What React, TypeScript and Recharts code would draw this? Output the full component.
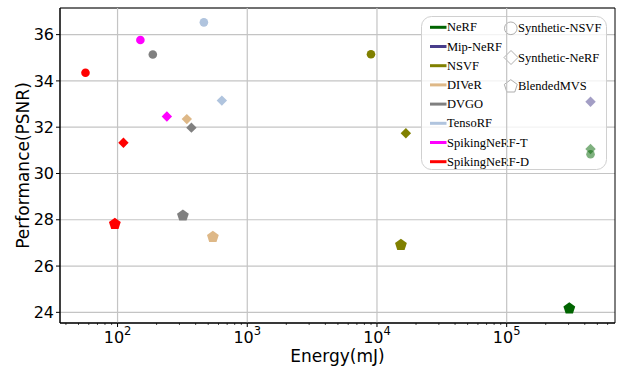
import { ScatterChart, Scatter, XAxis, YAxis, CartesianGrid, ReferenceLine, ReferenceArea } from 'recharts';

// Methods and their legend colours
const methods = ['NeRF', 'Mip-NeRF', 'NSVF', 'DIVeR', 'DVGO', 'TensoRF', 'SpikingNeRF-T', 'SpikingNeRF-D'];
const methodColors = ['#006400', '#483d8b', '#808000', '#deb887', '#808080', '#b0c4de', '#ff00ff', '#ff0000'];
const datasets = ['Synthetic-NSVF', 'Synthetic-NeRF', 'BlendedMVS'];

// Energy (mJ) vs PSNR
const syntheticNsvf = [
  { method: 'SpikingNeRF-D', energy: 56.6, psnr: 34.35 },
  { method: 'SpikingNeRF-T', energy: 150, psnr: 35.77 },
  { method: 'DVGO', energy: 187, psnr: 35.14 },
  { method: 'TensoRF', energy: 463, psnr: 36.53 },
  { method: 'NSVF', energy: 8990, psnr: 35.15 },
  { method: 'NeRF', energy: 443000, psnr: 30.83 },
];

const syntheticNerf = [
  { method: 'SpikingNeRF-D', energy: 111, psnr: 31.33 },
  { method: 'SpikingNeRF-T', energy: 240, psnr: 32.46 },
  { method: 'DIVeR', energy: 342, psnr: 32.35 },
  { method: 'DVGO', energy: 371, psnr: 31.98 },
  { method: 'TensoRF', energy: 637, psnr: 33.15 },
  { method: 'NSVF', energy: 16700, psnr: 31.74 },
  { method: 'Mip-NeRF', energy: 443000, psnr: 33.1 },
  { method: 'NeRF', energy: 443000, psnr: 31.06 },
];

const blendedMvs = [
  { method: 'SpikingNeRF-D', energy: 95.3, psnr: 27.82 },
  { method: 'DVGO', energy: 319, psnr: 28.18 },
  { method: 'DIVeR', energy: 543, psnr: 27.26 },
  { method: 'NSVF', energy: 15300, psnr: 26.91 },
  { method: 'NeRF', energy: 304000, psnr: 24.17 },
];

// points drawn half transparent in the original
const translucentPoints = ['Synthetic-NSVF/NeRF', 'Synthetic-NeRF/Mip-NeRF', 'Synthetic-NeRF/NeRF'];

const majorXTicks = [100, 1000, 10000, 100000];
const minorXTicks = [
  40, 50, 60, 70, 80, 90,
  200, 300, 400, 500, 600, 700, 800, 900,
  2000, 3000, 4000, 5000, 6000, 7000, 8000, 9000,
  20000, 30000, 40000, 50000, 60000, 70000, 80000, 90000,
  200000, 300000, 400000, 500000, 600000,
];
const yTicks = [24, 26, 28, 30, 32, 34, 36];

const X_DOMAIN: [number, number] = [36, 684000];
const Y_DOMAIN: [number, number] = [23.54, 37.15];

const TICK_FONT = '"DejaVu Sans", sans-serif';
const LEGEND_FONT = '"Liberation Serif", "Times New Roman", serif';
const GRID = '#c4c4c4';

const colorOf = (method: string) => methodColors[methods.indexOf(method)];

function pentagonPoints(cx: number, cy: number, r: number) {
  const pts: string[] = [];
  for (let k = 0; k < 5; k++) {
    const a = (-90 + 72 * k) * Math.PI / 180;
    pts.push(`${cx + r * Math.cos(a)},${cy + r * Math.sin(a)}`);
  }
  return pts.join(' ');
}

function makeShape(dataset: string, kind: 'circle' | 'diamond' | 'pentagon') {
  return (props: any) => {
    const { cx, cy, payload } = props;
    const fill = colorOf(payload.method);
    const opacity = translucentPoints.includes(`${dataset}/${payload.method}`) ? 0.5 : 1;
    if (kind === 'circle') return <circle cx={cx} cy={cy} r={4.3} fill={fill} fillOpacity={opacity} />;
    if (kind === 'diamond') {
      const d = 5.2;
      return <polygon points={`${cx},${cy - d} ${cx + d},${cy} ${cx},${cy + d} ${cx - d},${cy}`} fill={fill} fillOpacity={opacity} />;
    }
    return <polygon points={pentagonPoints(cx, cy, 6.2)} fill={fill} fillOpacity={opacity} />;
  };
}

function XTick({ x, y, payload }: any) {
  const v = payload.value;
  const major = majorXTicks.includes(v);
  return (
    <g>
      <line x1={x} x2={x} y1={y} y2={y + (major ? 4 : 2)} stroke="#000" strokeWidth={major ? 1 : 0.7} />
      {major && (
        <text x={x} y={y + 20} textAnchor="middle" fontSize={16} fontFamily={TICK_FONT} fill="#000">
          <tspan>10</tspan>
          <tspan dy={-8} fontSize={11.5}>{Math.round(Math.log10(v))}</tspan>
        </text>
      )}
    </g>
  );
}

// legend drawn inside the chart svg, above the grid and below the markers
function LegendBox() {
  const rowY = (i: number) => 27.3 + i * 19.2;
  return (
    <g className="legend-box">
      <rect x={421.5} y={16.5} width={185} height={153} rx={10} fill="#fff" fillOpacity={0.8} stroke="#d0d0d0" />
      {methods.map((m, i) => (
        <g key={m}>
          <line x1={430} x2={446.5} y1={rowY(i)} y2={rowY(i)} stroke={methodColors[i]} strokeWidth={3} />
          <text x={447} y={rowY(i)} dominantBaseline="central" fontSize={12.5} fontFamily={LEGEND_FONT} fill="#000">{m}</text>
        </g>
      ))}
      <circle cx={510.8} cy={28.3} r={6.3} fill="#fff" stroke="#999" strokeWidth={0.8} />
      <text x={518} y={28.3} dominantBaseline="central" fontSize={12.5} fontFamily={LEGEND_FONT} fill="#000">{datasets[0]}</text>
      <polygon points="511,50.5 518,57.5 511,64.5 504,57.5" fill="#fff" stroke="#999" strokeWidth={0.8} />
      <text x={518} y={57.5} dominantBaseline="central" fontSize={12.5} fontFamily={LEGEND_FONT} fill="#000">{datasets[1]}</text>
      <polygon points={pentagonPoints(510.8, 86.5, 6.8)} fill="#fff" stroke="#999" strokeWidth={0.8} />
      <text x={518} y={86.3} dominantBaseline="central" fontSize={12.5} fontFamily={LEGEND_FONT} fill="#000">{datasets[2]}</text>
    </g>
  );
}

export default function App() {
  return (
    <div style={{ position: 'absolute', left: 0, top: 0, width: 617, height: 371, background: '#fff' }}>
      <ScatterChart width={617} height={371} margin={{ top: 8, right: 2, bottom: 0, left: 0 }}>
        <CartesianGrid vertical={false} stroke={GRID} strokeWidth={1.2} />
        {majorXTicks.map(v => (
          <ReferenceLine key={v} x={v} stroke={GRID} strokeWidth={1.2} />
        ))}
        <XAxis
          type="number"
          dataKey="energy"
          scale="log"
          domain={X_DOMAIN}
          allowDataOverflow
          ticks={[...majorXTicks, ...minorXTicks].sort((a, b) => a - b)}
          interval={0}
          tick={<XTick />}
          tickLine={false}
          tickSize={0}
          tickMargin={0}
          height={48}
          axisLine={{ stroke: '#000', strokeWidth: 1 }}
          label={{
            content: ({ viewBox }: any) => (
              <text x={viewBox.x + viewBox.width / 2} y={viewBox.y + 39} textAnchor="middle" fontSize={17} fontFamily={TICK_FONT} fill="#000">
                Energy(mJ)
              </text>
            ),
          }}
        />
        <YAxis
          type="number"
          dataKey="psnr"
          domain={Y_DOMAIN}
          allowDataOverflow
          ticks={yTicks}
          interval={0}
          width={60}
          tickSize={4}
          tickMargin={2}
          tick={{ fontSize: 16, fontFamily: TICK_FONT, fill: '#000' }}
          tickLine={{ stroke: '#000' }}
          axisLine={{ stroke: '#000', strokeWidth: 1 }}
          label={{
            content: ({ viewBox }: any) => (
              <text
                transform={`translate(29, ${viewBox.y + viewBox.height / 2}) rotate(-90)`}
                textAnchor="middle"
                fontSize={17}
                fontFamily={TICK_FONT}
                fill="#000"
              >
                Performance(PSNR)
              </text>
            ),
          }}
        />
        <ReferenceArea x1={X_DOMAIN[0]} x2={X_DOMAIN[1]} y1={Y_DOMAIN[0]} y2={Y_DOMAIN[1]} fill="none" fillOpacity={0} stroke="#000" strokeWidth={1} strokeOpacity={1} />
        <LegendBox />
        <Scatter data={syntheticNsvf} shape={makeShape(datasets[0], 'circle')} isAnimationActive={false} />
        <Scatter data={syntheticNerf} shape={makeShape(datasets[1], 'diamond')} isAnimationActive={false} />
        <Scatter data={blendedMvs} shape={makeShape(datasets[2], 'pentagon')} isAnimationActive={false} />
      </ScatterChart>
    </div>
  );
}
